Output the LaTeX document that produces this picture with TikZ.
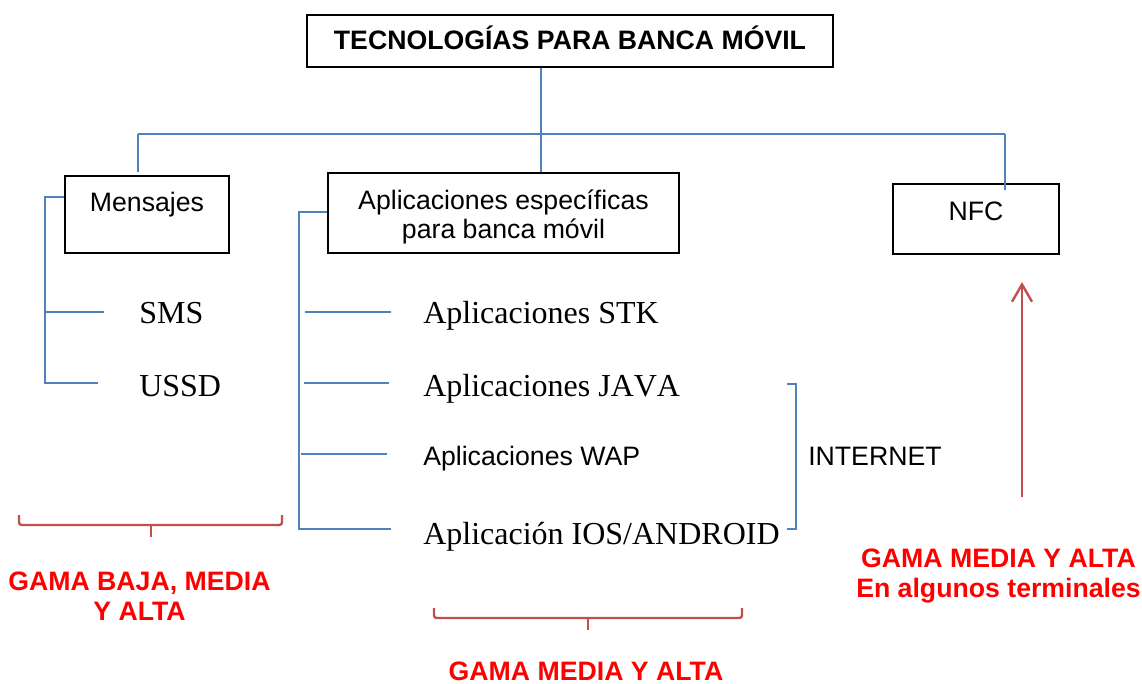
\documentclass[tikz,border=0pt]{standalone}
\usepackage{fontspec}
\setmainfont{Liberation Serif}[Kerning=Off]
\setsansfont{Liberation Sans}
\usetikzlibrary{arrows.meta,calc}
\definecolor{lblue}{HTML}{4F81BD}
\definecolor{bred}{HTML}{C0504D}
\definecolor{tred}{HTML}{FF0000}
\begin{document}
\begin{tikzpicture}[x=0.75pt,y=-0.75pt,
 box/.style={draw=black,line width=1.5pt,inner sep=0pt,font=\sffamily\fontsize{20}{22}\selectfont},
 conn/.style={draw=lblue,line width=1.4pt},
 bracepath/.style={draw=bred,line width=1.8pt,rounded corners=2pt},
 serif/.style={inner sep=0pt,font=\rmfamily\fontsize{24}{28}\selectfont},
 sans/.style={inner sep=0pt,font=\sffamily\fontsize{20}{22}\selectfont},
 redtxt/.style={inner sep=0pt,text=tred,align=center,font=\sffamily\bfseries\fontsize{20}{22.5}\selectfont},
]
\useasboundingbox (0,0) rectangle (1142,684);

% boxes
\node[box,anchor=north west,minimum width=394.5pt,text height=25.9pt,text depth=13.1pt,
      font=\sffamily\bfseries\fontsize{20}{22}\selectfont] (title) at (306,14) {TECNOLOGÍAS PARA BANCA MÓVIL};
\node[box,anchor=north west,minimum width=123pt,text height=26.8pt,text depth=31.2pt] (men) at (64,175) {Mensajes};
\node[box,anchor=north west,minimum width=263.25pt,text height=49.3pt,text depth=10.7pt,align=center] (apps) at (327,172) {Aplicaciones específicas\\para banca móvil};
\node[box,anchor=north west,minimum width=124.5pt,text height=27.2pt,text depth=25pt] (nfc) at (892,183) {NFC};

% items
\node[serif,anchor=base west] (sms) at (139,323) {SMS};
\node[serif,anchor=base west] (ussd) at (139,396.5) {USSD};
\node[serif,anchor=base west] (stk) at (423,323) {Aplicaciones STK};
\node[serif,anchor=base west] (java) at (423,396) {Aplicaciones JAVA};
\node[sans,anchor=base west] (wap) at (423,465) {Aplicaciones WAP};
\node[serif,anchor=base west] (ios) at (423,544.5) {Aplicación IOS/ANDROID};
\node[sans,anchor=base west] (inet) at (808,465) {INTERNET};

% tree
\coordinate (h1) at (138,134);
\coordinate (h2) at (541,134);
\coordinate (h3) at (1005,134);
\draw[conn] (h1) -- (h3);
\draw[conn] (title.south -| h2) -- (h2 |- apps.north);
\draw[conn] (h1) -- ($(h1 |- men.north)+(0,-3)$);
\draw[conn] (h3) -- ($(h3 |- nfc.north)+(0,7.5)$);

% Mensajes bracket
\coordinate (mtop) at (45,197);
\coordinate (lsms) at (104,312);
\coordinate (lussd) at (98,383);
\draw[conn] (men.west |- mtop) -- (mtop) -- (mtop |- lussd) -- (lussd);
\draw[conn] (mtop |- lsms) -- (lsms);

% Aplicaciones bracket
\coordinate (atop) at (299,212);
\coordinate (lios) at (391,529);
\coordinate (lstk0) at (305,312);
\coordinate (lstk) at (391,312);
\coordinate (ljava0) at (304,383);
\coordinate (ljava) at (389,383);
\coordinate (lwap0) at (301,454);
\coordinate (lwap) at (387,454);
\draw[conn] (apps.west |- atop) -- (atop) -- (atop |- lios) -- (lios);
\draw[conn] (lstk0) -- (lstk);
\draw[conn] (ljava0) -- (ljava);
\draw[conn] (lwap0) -- (lwap);

% INTERNET bracket
\coordinate (itop) at (787,384);
\coordinate (ibot) at (787,529);
\draw[conn] (itop) -- ++(9,0) |- (ibot);

% red arrow
\coordinate (abase) at (1022,497);
\coordinate (atip) at (1022,282);
\draw[draw=bred,line width=1.8pt,-{Straight Barb[length=13pt,width=15pt]}] (abase) -- (atip);

% braces
\coordinate (b1m) at (151,537);
\draw[bracepath] (19,515) -- (19,525) -- (282,525) -- (282,515);
\draw[bracepath,line width=2pt] (151,525) -- (b1m);
\coordinate (b2m) at (588,630);
\draw[bracepath] (434,608) -- (434,618) -- (742,618) -- (742,608);
\draw[bracepath,line width=2pt] (588,618) -- (b2m);

% red labels
\node[redtxt] (g1) at (139.5,596) {GAMA BAJA, MEDIA\\Y ALTA};
\node[redtxt,anchor=base] (g2) at (586,680.5) {GAMA MEDIA Y ALTA};
\node[redtxt] (g3) at (998.5,575.8) {GAMA MEDIA Y ALTA\\En algunos terminales};
\end{tikzpicture}
\end{document}
